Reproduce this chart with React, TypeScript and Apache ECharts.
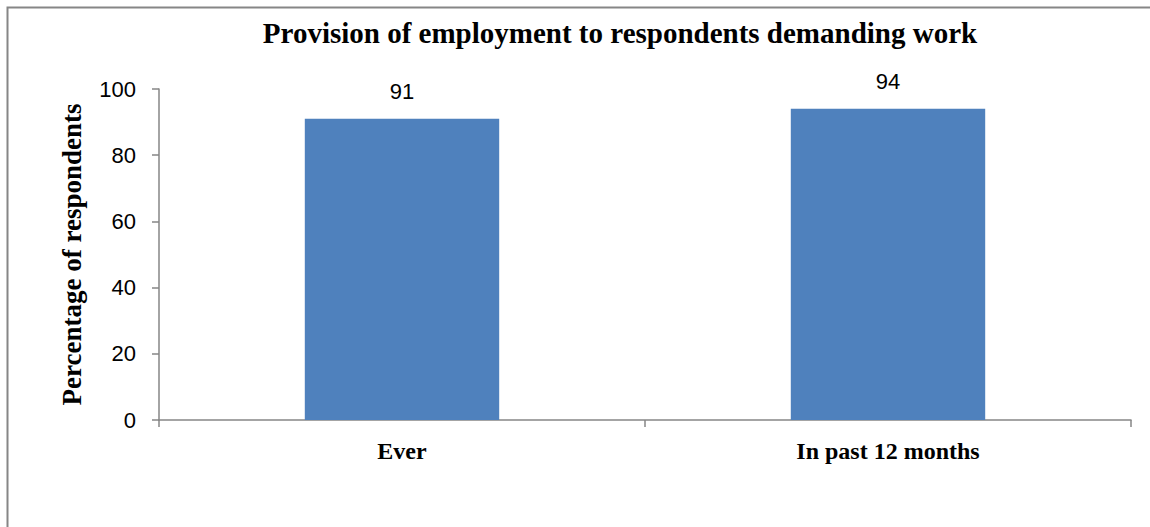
import React, { useEffect, useRef } from "react";
import * as echarts from "echarts";

const categories = ["Ever", "In past 12 months"];
const values = [91, 94];
const yTicks = { min: 0, max: 100, interval: 20 };
const titleText = "Provision of employment to respondents demanding work";
const yAxisName = "Percentage of respondents";

export default function App() {
  const ref = useRef<HTMLDivElement>(null);
  useEffect(() => {
    if (!ref.current) return;
    const chart = echarts.init(ref.current, null, { renderer: "svg" });
    const serif = "'Liberation Serif', 'DejaVu Serif', serif";
    const sans = "'Liberation Sans', 'DejaVu Sans', sans-serif";
    chart.setOption({
      animation: false,
      backgroundColor: "#ffffff",
      title: {
        text: titleText,
        left: 615,
        top: 13,
        textAlign: "center",
        textStyle: { fontFamily: serif, fontWeight: "bold", fontSize: 29, color: "#000" },
      },
      graphic: [
        {
          type: "rect",
          shape: { x: 7.5, y: 7.5, width: 1300, height: 700 },
          style: { fill: "none", stroke: "#868686", lineWidth: 2 },
          silent: true,
        },
      ],
      grid: { left: 159, top: 89, right: 19, bottom: 107, containLabel: false },
      xAxis: {
        type: "category",
        data: categories,
        axisLine: { lineStyle: { color: "#868686", width: 1.5 } },
        axisTick: { show: true, length: 7, lineStyle: { color: "#868686", width: 1.5 } },
        axisLabel: {
          margin: 19,
          fontFamily: serif,
          fontWeight: "bold",
          fontSize: 24,
          color: "#000",
        },
      },
      yAxis: {
        type: "value",
        min: yTicks.min,
        max: yTicks.max,
        interval: yTicks.interval,
        name: yAxisName,
        nameLocation: "middle",
        nameGap: 74,
        nameRotate: 90,
        nameTextStyle: { fontFamily: serif, fontWeight: "bold", fontSize: 27, color: "#000" },
        axisLine: { show: true, lineStyle: { color: "#868686", width: 1.5 } },
        axisTick: { show: true, length: 7, lineStyle: { color: "#868686", width: 1.5 } },
        splitLine: { show: false },
        axisLabel: { margin: 23, fontFamily: sans, fontSize: 22, color: "#000" },
      },
      series: [
        {
          type: "bar",
          data: values,
          barWidth: "40%",
          itemStyle: { color: "#4F81BD" },
          label: {
            show: true,
            position: "top",
            distance: 16,
            fontFamily: sans,
            fontSize: 22,
            color: "#000",
          },
        },
      ],
    });
    return () => chart.dispose();
  }, []);
  return (
    <div
      ref={ref}
      style={{ position: "fixed", left: 0, top: 0, width: 1150, height: 527 }}
    />
  );
}
